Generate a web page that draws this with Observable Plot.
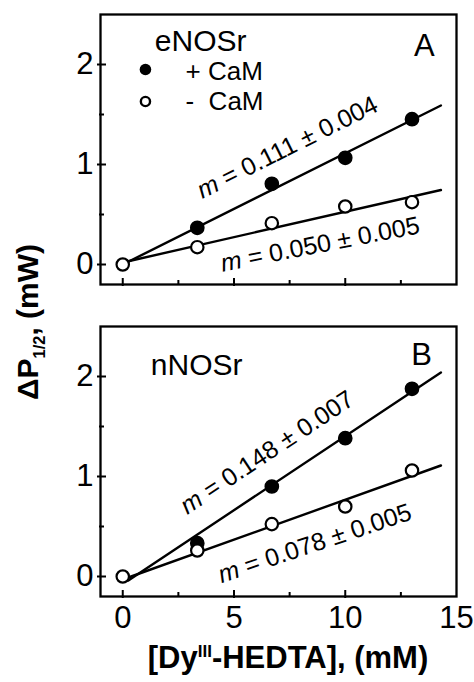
<!DOCTYPE html>
<html>
<head>
<meta charset="utf-8">
<script src="https://cdn.jsdelivr.net/npm/d3@7"></script>
<script src="https://cdn.jsdelivr.net/npm/@observablehq/plot@0.6"></script>
<style>
  html, body { margin: 0; padding: 0; background: #fff; }
  #wrap { position: relative; width: 474px; height: 682px; overflow: hidden; font-family: "Liberation Sans", Arial, sans-serif; }
  .panel { position: absolute; left: 0; }
  #ylab { position: absolute; left: 30px; top: 322px; transform: translate(-50%, -50%) rotate(-90deg); white-space: nowrap; font-weight: bold; font-size: 30px; line-height: 1; }
  #xlab { position: absolute; left: 288px; top: 642px; transform: translateX(-50%); white-space: nowrap; font-weight: bold; font-size: 31px; line-height: 1; }
  sub, sup { font-size: 55%; }
</style>
</head>
<body>
<div id="wrap">
  <div id="pA" class="panel" style="top:0px"></div>
  <div id="pB" class="panel" style="top:310px"></div>
  <div id="ylab">ΔP<sub>1/2</sub>, (mW)</div>
  <div id="xlab">[Dy<sup>III</sup>-HEDTA], (mM)</div>
</div>
<script>
// ---- data ----
const conc = [0, 3.35, 6.7, 10, 13];
const eNOS_plus  = [null, 0.367, 0.807, 1.067, 1.453];
const eNOS_minus = [0, 0.173, 0.413, 0.58, 0.623];
const nNOS_plus  = [null, 0.333, 0.90, 1.383, 1.877];
const nNOS_minus = [0, 0.26, 0.524, 0.70, 1.06];

// fitted line end points [x, y]
const fitA_plus  = [[0, 0.0], [14.3, 1.59]];
const fitA_minus = [[0, 0.02], [14.3, 0.745]];
const fitB_plus  = [[0.25, -0.04], [14.3, 2.04]];
const fitB_minus = [[0.25, -0.01], [14.3, 1.11]];

// slope annotations: [x, y, angle, text]
const annA = [[7.4, 1.17, -26.5, "m = 0.111 ± 0.004"], [8.87, 0.2, -11, "m = 0.050 ± 0.005"]];
const annB = [[6.49, 1.24, -33.5, "m = 0.148 ± 0.007"], [8.63, 0.33, -18.5, "m = 0.078 ± 0.005"]];

const xTicks = [0, 5, 10, 15];
const xMinor = [2.5, 7.5, 12.5];
const yTicks = [0, 1, 2];
const yMinor = [0.5, 1.5];
const xDomain = [-1, 15];
const yDomain = [-0.2, 2.5];

const FONT = "Liberation Sans, Arial, sans-serif";

function toPts(xs, ys) {
  return xs.map((x, i) => ({x, y: ys[i]})).filter(d => d.y != null);
}

function panel({height, marginTop, marginBottom, plus, minus, fitP, fitM, ann, name, nameXY, letter, letterXY, legend, showX}) {
  const frameH = height - marginTop - marginBottom;
  const W = 474, mL = 100, mR = 18;
  const frameW = W - mL - mR;
  const marks = [
    Plot.frame({stroke: "black", strokeWidth: 2.3}),
    // major / minor ticks (inward, slightly crossing the frame)
    Plot.tickX(xTicks.slice(0, 3), {x: d => d, insetTop: frameH - 6, insetBottom: -2, strokeWidth: 2}),
    Plot.tickX(xMinor, {x: d => d, insetTop: frameH - 4, insetBottom: -1, strokeWidth: 2}),
    Plot.tickY(yTicks, {y: d => d, insetRight: frameW - 6, insetLeft: -3, strokeWidth: 2}),
    Plot.tickY(yMinor, {y: d => d, insetRight: frameW - 4, insetLeft: -1, strokeWidth: 2}),
    Plot.axisY({ticks: yTicks, tickSize: 0, tickPadding: 7, fontSize: 31, fontFamily: FONT, label: null, tickFormat: d3.format("d")}),
    showX ? Plot.axisX({ticks: xTicks, tickSize: 0, tickPadding: 9, fontSize: 31, fontFamily: FONT, label: null, tickFormat: d3.format("d")}) : null,
    Plot.line(fitP, {x: d => d[0], y: d => d[1], stroke: "black", strokeWidth: 2.4}),
    Plot.line(fitM, {x: d => d[0], y: d => d[1], stroke: "black", strokeWidth: 2.4}),
    Plot.dot(plus, {x: "x", y: "y", r: 6.6, fill: "black", stroke: "black"}),
    Plot.dot(minus, {x: "x", y: "y", r: 6.2, fill: "white", stroke: "black", strokeWidth: 2.2}),
    Plot.text(ann, {x: d => d[0], y: d => d[1], rotate: d => d[2], text: d => d[3], textAnchor: "middle", lineAnchor: "middle", fontSize: 25, fontFamily: FONT, fill: "black"}),
    Plot.text([name], {x: nameXY[0], y: nameXY[1], text: d => d, textAnchor: "middle", lineAnchor: "bottom", fontSize: 30, fontFamily: FONT}),
    Plot.text([letter], {x: letterXY[0], y: letterXY[1], text: d => d, textAnchor: "middle", lineAnchor: "bottom", fontSize: 31, fontFamily: FONT})
  ];
  if (legend) {
    marks.push(Plot.dot([legend.dots[0]], {x: d => d[0], y: d => d[1], r: 5.8, fill: "black"}));
    marks.push(Plot.dot([legend.dots[1]], {x: d => d[0], y: d => d[1], r: 4.6, fill: "white", stroke: "black", strokeWidth: 2.4}));
    marks.push(Plot.text(legend.labels, {x: d => d[0], y: d => d[1], text: d => d[2], textAnchor: "start", lineAnchor: "bottom", fontSize: 26, fontFamily: FONT}));
  }
  const svg = Plot.plot({
    width: W, height,
    marginLeft: mL, marginRight: mR, marginTop, marginBottom,
    style: {fontFamily: FONT, color: "black", background: "white", overflow: "visible"},
    x: {domain: xDomain, axis: null},
    y: {domain: yDomain, axis: null},
    marks: marks.filter(Boolean)
  });
  // italic "m" in the slope annotations
  d3.select(svg).selectAll("text").each(function() {
    const t = this.textContent;
    if (t.startsWith("m = ") && this.children.length === 0) {
      this.textContent = "";
      d3.select(this).append("tspan").attr("font-style", "italic").text("m");
      d3.select(this).append("tspan").text(t.slice(1));
    }
  });
  return svg;
}

const legendA = {
  dots: [[1.02, 1.95], [1.02, 1.63]],
  labels: [[2.82, 1.85, "+ CaM"], [2.82, 1.55, "-  CaM"]]
};

document.getElementById("pA").appendChild(panel({
  height: 300, marginTop: 14, marginBottom: 16,
  plus: toPts(conc, eNOS_plus), minus: toPts(conc, eNOS_minus),
  fitP: fitA_plus, fitM: fitA_minus, ann: annA,
  name: "eNOSr", nameXY: [3.5, 2.14], letter: "A", letterXY: [13.55, 2.09],
  legend: legendA, showX: false
}));

document.getElementById("pB").appendChild(panel({
  height: 372, marginTop: 16, marginBottom: 86,
  plus: toPts(conc, nNOS_plus), minus: toPts(conc, nNOS_minus),
  fitP: fitB_plus, fitM: fitB_minus, ann: annB,
  name: "nNOSr", nameXY: [3.32, 2.017], letter: "B", letterXY: [13.43, 2.117],
  legend: null, showX: true
}));
</script>
</body>
</html>
